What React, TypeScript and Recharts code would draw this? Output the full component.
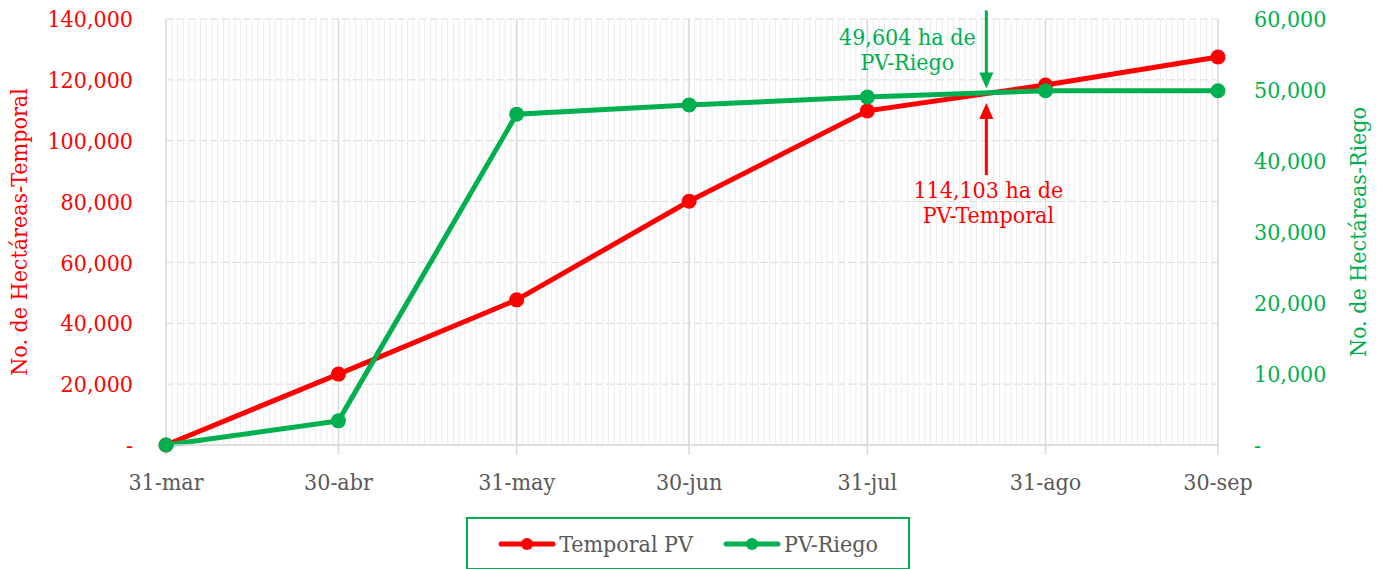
import React from 'react';
import { LineChart, Line, XAxis, YAxis, CartesianGrid, ReferenceLine, Legend } from 'recharts';

// Days counted from 31-mar
const dayOffsets = [0, 30, 61, 91, 122, 153, 183];
const tickLabels = ['31-mar', '30-abr', '31-may', '30-jun', '31-jul', '31-ago', '30-sep'];
const temporalPV = [0, 23300, 47700, 80100, 109800, 118300, 127500];
const pvRiego = [0, 3400, 46600, 47900, 49000, 49900, 49900];
const leftTicks = [0, 20000, 40000, 60000, 80000, 100000, 120000, 140000];
const rightTicks = [0, 10000, 20000, 30000, 40000, 50000, 60000];
const minorDays = Array.from({ length: 184 }, (_, i) => i);

const annotationDay = 142.7;
const riegoArrow = [61200, 50200];
const temporalArrow = [88700, 112400];
const riegoText = ['49,604 ha de', 'PV-Riego'];
const temporalText = ['114,103 ha de', 'PV-Temporal'];

const data = dayOffsets.map((d, i) => ({ day: d, temporal: temporalPV[i], riego: pvRiego[i] }));

const RED = '#ff0000';
const GREEN = '#00b050';
const GRAY = '#595959';
const FONT = "'DejaVu Serif Condensed', 'DejaVu Serif', serif";
const FS = 23;

const fmt = (v: number) => (v === 0 ? '-' : v.toLocaleString('en-US'));
const fmtDay = (v: number) => {
  const i = dayOffsets.indexOf(v);
  return i >= 0 ? tickLabels[i] : '';
};

const ArrowDown = (props: any) => {
  const { x1, y1, x2, y2 } = props;
  const top = Math.min(y1, y2);
  const tip = Math.max(y1, y2);
  return (
    <g>
      <line x1={x1} y1={top} x2={x2} y2={tip - 12} stroke={GREEN} strokeWidth={3} />
      <polygon points={`${x1 - 7},${tip - 16} ${x1 + 7},${tip - 16} ${x1},${tip}`} fill={GREEN} />
      <text x={x1 - 79} y={45} textAnchor="middle" fill={GREEN} fontSize={FS} fontFamily={FONT}>{riegoText[0]}</text>
      <text x={x1 - 79} y={70} textAnchor="middle" fill={GREEN} fontSize={FS} fontFamily={FONT}>{riegoText[1]}</text>
    </g>
  );
};

const ArrowUp = (props: any) => {
  const { x1, y1, x2, y2 } = props;
  const tip = Math.min(y1, y2);
  const bottom = Math.max(y1, y2);
  return (
    <g>
      <line x1={x1} y1={bottom} x2={x2} y2={tip + 12} stroke={RED} strokeWidth={3} />
      <polygon points={`${x1 - 7},${tip + 16} ${x1 + 7},${tip + 16} ${x1},${tip}`} fill={RED} />
      <text x={x1 + 2} y={bottom + 23} textAnchor="middle" fill={RED} fontSize={FS} fontFamily={FONT}>{temporalText[0]}</text>
      <text x={x1 + 2} y={bottom + 48} textAnchor="middle" fill={RED} fontSize={FS} fontFamily={FONT}>{temporalText[1]}</text>
    </g>
  );
};

const LegendContent = () => (
  <div style={{ width: 440, height: 49, border: `2px solid ${GREEN}`, display: 'flex', alignItems: 'center', justifyContent: 'center', fontFamily: FONT, fontSize: FS, color: GRAY, boxSizing: 'content-box' }}>
    {[{ c: RED, t: 'Temporal PV' }, { c: GREEN, t: 'PV-Riego' }].map((it, i) => (
      <div key={i} style={{ display: 'flex', alignItems: 'center', marginLeft: i ? 30 : 0 }}>
        <svg width={58} height={14} style={{ marginRight: 3 }}>
          <line x1={3} y1={7} x2={55} y2={7} stroke={it.c} strokeWidth={5} strokeLinecap="round" />
          <circle cx={29} cy={7} r={6} fill={it.c} />
        </svg>
        <span>{it.t}</span>
      </div>
    ))}
  </div>
);

const LeftLabel = (props: any) => {
  const vb = props.viewBox;
  const cy = vb.y + vb.height / 2;
  return (
    <text x={27} y={cy} transform={`rotate(-90 27 ${cy})`} textAnchor="middle" fill={RED} fontSize={FS} fontFamily={FONT}>No. de Hectáreas-Temporal</text>
  );
};

const RightLabel = (props: any) => {
  const vb = props.viewBox;
  const cy = vb.y + vb.height / 2;
  return (
    <text x={1366} y={cy} transform={`rotate(-90 1366 ${cy})`} textAnchor="middle" fill={GREEN} fontSize={FS} fontFamily={FONT}>No. de Hectáreas-Riego</text>
  );
};

export default function App() {
  return (
    <div style={{ position: 'absolute', left: 0, top: 0, width: 1380, height: 569, background: '#fff' }}>
      <LineChart width={1380} height={569} data={data} margin={{ top: 19, right: 0, left: 0, bottom: 13 }}>
        {minorDays.map((d) => (
          <ReferenceLine key={`m${d}`} x={d} yAxisId="left" stroke="#ececec" strokeWidth={1} ifOverflow="visible" />
        ))}
        <CartesianGrid stroke="#d9d9d9" strokeDasharray="8 3" vertical={false} yAxisId="left" />
        {dayOffsets.map((d) => (
          <ReferenceLine key={`M${d}`} x={d} yAxisId="left" stroke="#d9d9d9" strokeWidth={1.5} ifOverflow="visible" />
        ))}
        <XAxis
          dataKey="day"
          type="number"
          domain={[0, 183]}
          ticks={dayOffsets}
          tickFormatter={fmtDay}
          interval={0}
          height={60}
          axisLine={{ stroke: '#d9d9d9', strokeWidth: 1.5 }}
          tickLine={{ stroke: '#d9d9d9', strokeWidth: 1.5 }}
          tickSize={10}
          tickMargin={19}
          tick={{ fill: GRAY, fontSize: FS, fontFamily: FONT }}
        />
        <YAxis
          yAxisId="left"
          domain={[0, 140000]}
          ticks={leftTicks}
          tickFormatter={fmt}
          width={166}
          axisLine={false}
          tickLine={false}
          tickSize={0}
          tickMargin={33}
          tick={{ fill: RED, fontSize: FS, fontFamily: FONT }}
          label={{ content: LeftLabel }}
        />
        <YAxis
          yAxisId="right"
          orientation="right"
          domain={[0, 60000]}
          ticks={rightTicks}
          tickFormatter={fmt}
          width={162}
          axisLine={false}
          tickLine={false}
          tickSize={0}
          tickMargin={36}
          tick={{ fill: GREEN, fontSize: FS, fontFamily: FONT, textAnchor: 'start' }}
          label={{ content: RightLabel }}
        />
        <Line yAxisId="left" dataKey="temporal" name="Temporal PV" stroke={RED} strokeWidth={5} dot={{ r: 7.5, fill: RED, stroke: RED, strokeWidth: 0 }} isAnimationActive={false} />
        <Line yAxisId="right" dataKey="riego" name="PV-Riego" stroke={GREEN} strokeWidth={5} dot={{ r: 7.5, fill: GREEN, stroke: GREEN, strokeWidth: 0 }} isAnimationActive={false} />
        <ReferenceLine yAxisId="right" ifOverflow="visible" segment={[{ x: annotationDay, y: riegoArrow[0] }, { x: annotationDay, y: riegoArrow[1] }]} shape={ArrowDown} />
        <ReferenceLine yAxisId="left" ifOverflow="visible" segment={[{ x: annotationDay, y: temporalArrow[0] }, { x: annotationDay, y: temporalArrow[1] }]} shape={ArrowUp} />
        <Legend verticalAlign="bottom" height={51} content={LegendContent} wrapperStyle={{ left: 466, top: 517, width: 444, height: 51, bottom: 'auto' }} />
      </LineChart>
    </div>
  );
}
